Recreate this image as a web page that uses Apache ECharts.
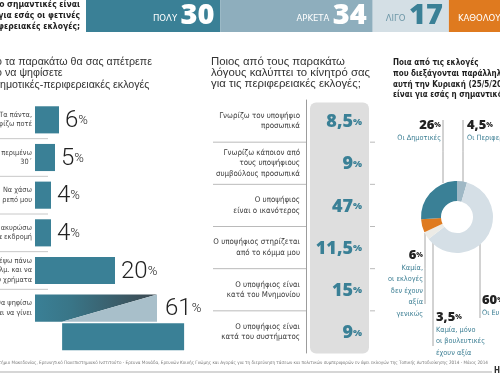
<!DOCTYPE html>
<html><head><meta charset="utf-8">
<script src="https://cdn.jsdelivr.net/npm/echarts@6/dist/echarts.min.js"></script>
<style>html,body{margin:0;padding:0;background:#fff}#c{width:500px;height:374px}</style>
</head><body><div id="c"></div>
<script>
// ---------- DATA ----------
const questionText = ['Πόσο σημαντικές είναι', 'για εσάς οι φετινές', 'περιφερειακές εκλογές;'];
const bandLabels = ['ΠΟΛΥ', 'ΑΡΚΕΤΑ', 'ΛΙΓΟ', 'ΚΑΘΟΛΟΥ'];
const bandValues = [30, 34, 17, 19];

const deterTitle = ['Ποιο από τα παρακάτω θα σας απέτρεπε', 'από το να ψηφίσετε', 'στις δημοτικές-περιφερειακές εκλογές'];
const deterCategories = [
  'Τα πάντα,\nδεν ψηφίζω ποτέ',
  'Να περιμένω\n30΄',
  'Να χάσω\nτο ρεπό μου',
  'Να ακυρώσω\nμια εκδρομή',
  'Να ταξιδέψω πάνω\nαπό 100 χλμ. και να\nξοδέψω πολύ χρήματα',
  'Τίποτα, θα ψηφίσω\nό,τι και να γίνει'
];
const deterValues = [6, 5, 4, 4, 20, 61];

const motiveTitle = ['Ποιος από τους παρακάτω', 'λόγους καλύπτει το κίνητρό σας', 'για τις περιφερειακές εκλογές;'];
const motiveCategories = [
  'Γνωρίζω τον υποψήφιο\nπροσωπικά',
  'Γνωρίζω κάποιον από\nτους υποψήφιους\nσυμβούλους προσωπικά',
  'Ο υποψήφιος\nείναι ο ικανότερος',
  'Ο υποψήφιος στηρίζεται\nαπό το κόμμα μου',
  'Ο υποψήφιος είναι\nκατά του Μνημονίου',
  'Ο υποψήφιος είναι\nκατά του συστήματος'
];
const motiveValues = [8.5, 9, 47, 11.5, 15, 9];

const electionTitle = ['Ποια από τις εκλογές', 'που διεξάγονται παράλληλα', 'αυτή την Κυριακή (25/5/2014)', 'είναι για εσάς η σημαντικότερη;'];
const electionNames = ['Οι Περιφερειακές', 'Οι Ευρωεκλογές', 'Καμία, μόνο\nοι βουλευτικές\nέχουν αξία', 'Καμία,\nοι εκλογές\nδεν έχουν\nαξία\nγενικώς', 'Οι Δημοτικές'];
const electionValues = [4.5, 60, 3.5, 6, 26];

const sourcePrefix = 'Πηγή: Πανεπιστ';
const sourceText = 'ήμιο Μακεδονίας, Ερευνητικό Πανεπιστημιακό Ινστιτούτο - Ερευνα Μονάδα, Ερευνών Κοινής Γνώμης και Αγοράς για τη διερεύνηση τάσεων και πολιτικών συμπεριφορών εν όψει εκλογών της Τοπικής Αυτοδιοίκησης 2014 - Μάιος 2014';

// ---------- STYLE ----------
const TEAL = '#3a8096';
const NARROW = '"Liberation Sans Narrow","DejaVu Sans Condensed",sans-serif';
const SANS = '"Liberation Sans","DejaVu Sans",sans-serif';
const ROUND = '"Open Sans","DejaVu Sans",sans-serif';
const LIGHT = 'Roboto,"DejaVu Sans",sans-serif';
const bandColors = [TEAL, '#8eaebd', '#d4dfe5', '#df7a1f'];
const bandTextColors = [['#ffffff', '#ffffff'], ['#ffffff', '#ffffff'], ['#6f98a8', TEAL], ['#ffffff', '#ffffff']];
const pieColors = ['#9fb8c5', '#d5dfe6', '#ecebe6', '#df7a1f', TEAL];
const fmt = v => String(v).replace('.', ',');

const mctx = document.createElement('canvas').getContext('2d');
const tw = (t, weight, size, fam) => { mctx.font = `${weight} ${size}px ${fam}`; return mctx.measureText(t).width; };
const fit = (t, weight, fam, target) => +(100 * target / tw(t, weight, 100, fam)).toFixed(2);

const fQuestion = fit('σημαντικές είναι', 'bold', NARROW, 73);
const fLeftTitle = fit('τα παρακάτω θα σας απέτρεπε', 'normal', SANS, 147);
const fMidTitle = fit('λόγους καλύπτει το κίνητρό σας', 'normal', SANS, 159);
const fRightTitle = (fit('Ποια από τις εκλογές', 'bold', NARROW, 72) + fit('που διεξάγονται παράλλ', 'bold', NARROW, 107) + fit('είναι για εσάς η σημαντι', 'bold', NARROW, 107)) / 3;
const fLeftCat = fit('Να χάσω', 'normal', NARROW, 27) * 1.08;
const fMidCat = fit('Γνωρίζω τον υποψήφιο', 'normal', NARROW, 81);
const fDonut = fit('οι εκλογές', 'normal', NARROW, 35);
const fBand = fit('ΑΡΚΕΤΑ', 'normal', NARROW, 33);
const fSource = fit(sourceText, 'normal', NARROW, 488);

// label callout layout for the donut (x, y, align, line x, line top, line bottom)
const callouts = [
  {x: 467, y: 118, align: 'left',  lx: 463, l1: 183, l2: 120},
  {x: 482, y: 293, align: 'left',  lx: 480, l1: 244, l2: 318},
  {x: 436, y: 310, align: 'left',  lx: 433, l1: 240, l2: 346},
  {x: 423, y: 248, align: 'right', lx: 425, l1: 233, l2: 304},
  {x: 441, y: 118, align: 'right', lx: 443, l1: 183, l2: 120}
];

const chart = echarts.init(document.getElementById('c'), null, {renderer: 'canvas'});

const bandSeries = bandValues.map((v, i) => ({
  type: 'bar', xAxisIndex: 0, yAxisIndex: 0, stack: 'band', barWidth: '100%',
  data: [v], silent: true,
  itemStyle: {color: bandColors[i]},
  label: {
    show: true,
    position: i === 3 ? 'insideLeft' : 'insideRight',
    distance: i === 3 ? 9 : 6,
    formatter: `{s|${bandLabels[i]}} {b|${v}}`,
    rich: {
      s: {fontSize: fBand, fontFamily: NARROW, color: bandTextColors[i][0], padding: [6, 0, 0, 0]},
      b: {fontSize: 29, fontWeight: 800, fontFamily: ROUND, color: bandTextColors[i][1]}
    }
  }
}));

const leftSeries = {
  type: 'custom', xAxisIndex: 1, yAxisIndex: 1, silent: true,
  data: deterValues.map((v, i) => [v, i]),
  encode: {x: 0, y: 1},
  renderItem: function (params, api) {
    const v = api.value(0), i = api.value(1);
    const p0 = api.coord([0, i]), p1 = api.coord([v, i]);
    const band = api.size([0, 1])[1];
    const h = band * 0.72;
    const top = p0[1] - h / 2;
    const cs = params.coordSys;
    const L = p1[0] - p0[0];
    const ch = [];
    if (i < deterValues.length - 1) {
      ch.push({type: 'line', shape: {x1: cs.x - 35, y1: p0[1] + band / 2, x2: p0[0] + 13, y2: p0[1] + band / 2},
        style: {stroke: '#c8c8c8', lineWidth: 1}});
    }
    let lx;
    if (p1[0] <= cs.x + cs.width) {
      ch.push({type: 'rect', shape: {x: p0[0], y: top, width: L, height: h}, style: {fill: TEAL}});
      lx = p1[0] + 6;
    } else {
      const w = L / 2, x0 = p0[0], yT = top, yB = top + h;
      ch.push({type: 'rect', shape: {x: x0 + h, y: yB + 1.5, width: w, height: h}, style: {fill: TEAL}});
      ch.push({type: 'polygon', shape: {points: [[x0, yT], [x0 + w, yT], [x0 + h, yB], [x0, yB]]},
        style: {fill: new echarts.graphic.LinearGradient(0, 0, 1, 0, [
          {offset: 0, color: TEAL}, {offset: 0.3, color: '#397587'}, {offset: 1, color: '#3c4850'}])}});
      ch.push({type: 'polygon', shape: {points: [[x0 + h, yB], [x0 + w, yT], [x0 + w, yB]]}, style: {fill: '#a8bfca'}});
      lx = x0 + w + 8;
    }
    ch.push({type: 'text', x: lx, y: p0[1] + 1, style: {
      text: `{n|${fmt(v)}}{p|%}`, align: 'left', verticalAlign: 'middle',
      rich: {
        n: {fontSize: 24, fontWeight: 300, fontFamily: LIGHT, fill: '#222', color: '#222'},
        p: {fontSize: 13, fontWeight: 300, fontFamily: LIGHT, fill: '#222', color: '#222'}
      }
    }});
    return {type: 'group', children: ch};
  }
};

const midSeries = {
  type: 'custom', xAxisIndex: 2, yAxisIndex: 2, silent: true,
  data: motiveValues.map((v, i) => [0, i, v]),
  encode: {x: 0, y: 1},
  renderItem: function (params, api) {
    const i = api.value(1), v = api.value(2);
    const c = api.coord([0, i]);
    const band = api.size([0, 1])[1];
    const cs = params.coordSys;
    const n = motiveValues.length;
    const ch = [];
    const yb = c[1] + band / 2;
    if (i < n - 1) {
      ch.push({type: 'line', shape: {x1: cs.x - 93, y1: yb, x2: cs.x, y2: yb}, style: {stroke: '#a8a8a8', lineWidth: 0.8}});
      ch.push({type: 'line', shape: {x1: cs.x + cs.width, y1: yb, x2: cs.x + cs.width + 5, y2: yb}, style: {stroke: '#a8a8a8', lineWidth: 0.8}});
    }
    let y0 = c[1] - band / 2 - 0.5, hh = band + 1, r = 0;
    if (i === 0) { y0 += 3; hh -= 3; r = [6, 6, 0, 0]; }
    if (i === n - 1) { r = [0, 0, 6, 6]; }
    ch.push({type: 'rect', shape: {x: cs.x + 4, y: y0, width: cs.width - 5, height: hh, r: r}, style: {fill: '#dedede'}});
    ch.push({type: 'text', x: cs.x + 56, y: c[1] + 1, style: {
      text: `{n|${fmt(v)}}{p|%}`, align: 'right', verticalAlign: 'middle',
      rich: {
        n: {fontSize: 18, fontWeight: 800, fontFamily: ROUND, fill: TEAL, color: TEAL},
        p: {fontSize: 9.5, fontWeight: 800, fontFamily: ROUND, fill: TEAL, color: TEAL}
      }
    }});
    return {type: 'group', children: ch};
  }
};

const pieSeries = {
  type: 'pie', center: [457, 217], radius: [16, 36], startAngle: 90, clockwise: true,
  silent: true, avoidLabelOverlap: false, z: 5,
  data: electionValues.map((v, i) => ({value: v, name: electionNames[i], itemStyle: {color: pieColors[i]}})),
  label: {
    show: true, position: 'outside',
    formatter: p => `{n|${fmt(p.value)}}{p|%}\n{t|${p.name.split('\n').join('}\n{t|')}}`,
    rich: {
      n: {fontSize: 13, fontWeight: 800, fontFamily: ROUND, color: '#222', lineHeight: 14},
      p: {fontSize: 7, fontWeight: 800, fontFamily: ROUND, color: '#222', lineHeight: 14},
      t: {fontSize: fDonut, fontFamily: NARROW, color: '#3d7f94', lineHeight: 11.5}
    }
  },
  labelLine: {show: true, lineStyle: {color: '#8f8f8f', width: 0.8}},
  labelLayout: function (params) {
    const c = callouts[params.dataIndex];
    return {x: c.x, y: c.y, align: c.align, verticalAlign: 'top',
      labelLinePoints: [[c.lx, c.l1], [c.lx, (c.l1 + c.l2) / 2], [c.lx, c.l2]]};
  }
};

const textEl = (x, y, text, opt) => ({
  type: 'text', x: x, y: y, silent: true,
  style: Object.assign({text: text, fill: '#333', align: 'left', verticalAlign: 'middle'}, opt)
});

const leftTitleStyle = {font: `${fLeftTitle}px ${SANS}`, fill: '#333'};
const option = {
  animation: false,
  grid: [
    {left: 86, top: 0, width: 448, height: 32, outerBoundsMode: 'none', containLabel: false},
    {left: 35, top: 101, width: 160, height: 226, outerBoundsMode: 'none', containLabel: false},
    {left: 306, top: 100, width: 64, height: 253, outerBoundsMode: 'none', containLabel: false}
  ],
  xAxis: [
    {gridIndex: 0, type: 'value', min: 0, max: 100, show: false},
    {gridIndex: 1, type: 'value', min: 0, max: 40, show: false},
    {gridIndex: 2, type: 'value', min: 0, max: 1, show: false}
  ],
  yAxis: [
    {gridIndex: 0, type: 'category', data: ['q'], show: false},
    {gridIndex: 1, type: 'category', data: deterCategories, inverse: true,
      axisLine: {show: false}, axisTick: {show: false}, splitLine: {show: false},
      axisLabel: {fontSize: fLeftCat, lineHeight: 9.5, fontFamily: NARROW, color: '#444', margin: 3, align: 'right'}},
    {gridIndex: 2, type: 'category', data: motiveCategories, inverse: true,
      axisLine: {show: true, lineStyle: {color: '#9c9c9c', width: 1}}, axisTick: {show: false}, splitLine: {show: false},
      axisLabel: {fontSize: fMidCat, lineHeight: 10.5, fontFamily: NARROW, color: '#3a3a3a', margin: 6, align: 'right'}}
  ],
  series: [...bandSeries, leftSeries, midSeries, pieSeries],
  graphic: [
    textEl(80, 16, questionText.join('\n'), {font: `bold ${fQuestion}px ${NARROW}`, fill: '#1f1f1f', align: 'right', lineHeight: 11}),
    textEl(5 - tw('Ποιο από ', 'normal', fLeftTitle, SANS), 62, deterTitle[0], leftTitleStyle),
    textEl(5 - tw('από το ', 'normal', fLeftTitle, SANS), 73.5, deterTitle[1], leftTitleStyle),
    textEl(0 - tw('στις δ', 'normal', fLeftTitle, SANS), 85, deterTitle[2], leftTitleStyle),
    textEl(211, 73, motiveTitle.join('\n'), {font: `${fMidTitle}px ${SANS}`, fill: '#333', lineHeight: 11}),
    textEl(393, 79.2, electionTitle.join('\n'), {font: `bold ${fRightTitle.toFixed(2)}px ${NARROW}`, fill: '#1f1f1f', lineHeight: 10.6}),
    textEl(488, 363, sourcePrefix + sourceText, {font: `${fSource}px ${NARROW}`, fill: '#777', align: 'right'}),
    {type: 'line', silent: true, shape: {x1: 0, y1: 372, x2: 492, y2: 372}, style: {stroke: '#c8c8c8', lineWidth: 1.5}},
    textEl(494, 371, 'Η', {font: `bold 8px ${NARROW}`, fill: '#333'})
  ]
};
chart.setOption(option);
</script>
</body></html>
